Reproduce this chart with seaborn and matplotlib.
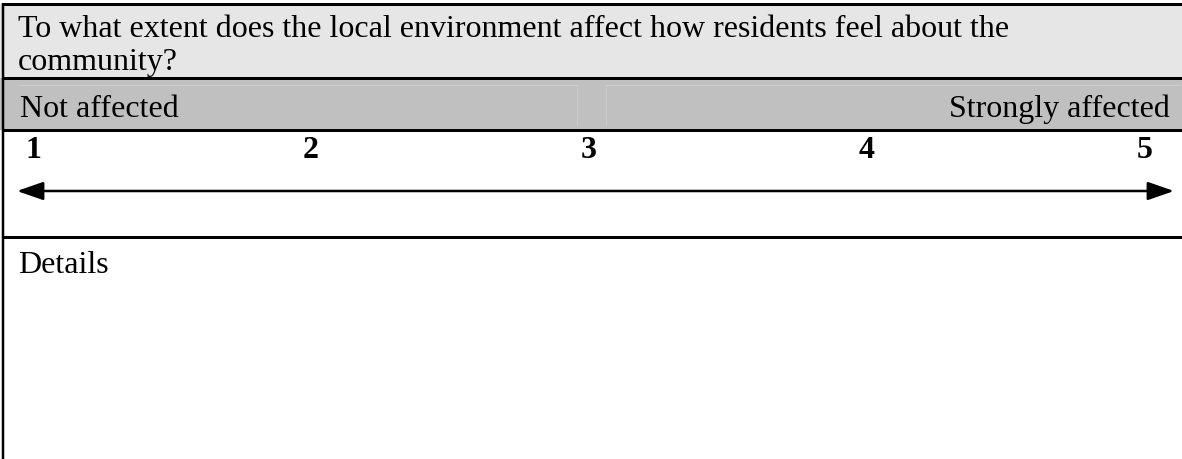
import matplotlib
matplotlib.use("Agg")
import matplotlib.pyplot as plt
from matplotlib.patches import Rectangle
import seaborn as sns

# survey item contents
question_lines = ["To what extent does the local environment affect how residents feel about the",
                  "community?"]
low_label = "Not affected"
high_label = "Strongly affected"
scale_points = [1, 2, 3, 4, 5]
scale_labels = ["1", "2", "3", "4", "5"]
details_label = "Details"

sns.set_theme(style="white")
plt.rcParams['font.family'] = ['Liberation Serif', 'DejaVu Serif']

W, H = 1182, 460
fig = plt.figure(figsize=(W / 100, H / 100), dpi=100)
fig.patch.set_facecolor('white')

# layout axes in pixel units
ax = fig.add_axes([0, 0, 1, 1])
ax.set_xlim(0, W)
ax.set_ylim(H, 0)
ax.axis('off')

px = 0.72  # one pixel in points
fs = 23

# header boxes
ax.add_patch(Rectangle((0, 5), W, 74, facecolor='#e6e6e6', edgecolor='none'))
ax.add_patch(Rectangle((0, 79), W, 52, facecolor='#c0c0c0', edgecolor='none'))

# faint inner cell borders in the label band
ax.plot([20, 577], [86, 86], color='#d0d0d0', lw=1 * px)
ax.plot([606, 1180], [86, 86], color='#d0d0d0', lw=1 * px)
ax.plot([577, 577], [86, 126], color='#cbcbcb', lw=1 * px)
ax.plot([606, 606], [86, 126], color='#cbcbcb', lw=1 * px)

# table rules
for y in [5, 79, 131, 238]:
    ax.plot([2, W], [y, y], color='black', lw=3 * px, solid_capstyle='butt')
ax.plot([3, 3], [4, H], color='black', lw=2.5 * px, solid_capstyle='butt')

# question text
for i, line in enumerate(question_lines):
    ax.text(18, 37 + i * 33, line, fontsize=fs, ha='left', va='baseline', color='black')

ax.text(20, 117, low_label, fontsize=fs, ha='left', va='baseline', color='black')
ax.text(1170, 117, high_label, fontsize=fs, ha='right', va='baseline', color='black')
ax.text(18, 273, details_label, fontsize=fs, ha='left', va='baseline', color='black')

# rating scale axis: value 1 sits at 33 px, value 5 at 1145 px
sax = fig.add_axes([0, 0, 1, 1])
unit = (1145 - 33) / (scale_points[-1] - scale_points[0])
sax.set_xlim(scale_points[0] - 33 / unit, scale_points[-1] + (W - 1145) / unit)
sax.set_ylim(H, 0)
sax.axis('off')
sax.patch.set_alpha(0)

for v, lab in zip(scale_points, scale_labels):
    sax.text(v, 158, lab, fontsize=fs, fontweight='bold', ha='center', va='baseline', color='black')

# double-headed arrow across the scale
ax.annotate('', xy=(1174, 192), xytext=(17, 192),
            arrowprops=dict(arrowstyle='<|-|>,head_length=1.15,head_width=0.4',
                            color='black', lw=2.5 * px, mutation_scale=14,
                            shrinkA=0, shrinkB=0))

fig.savefig('out.png', dpi=100, facecolor='white')
